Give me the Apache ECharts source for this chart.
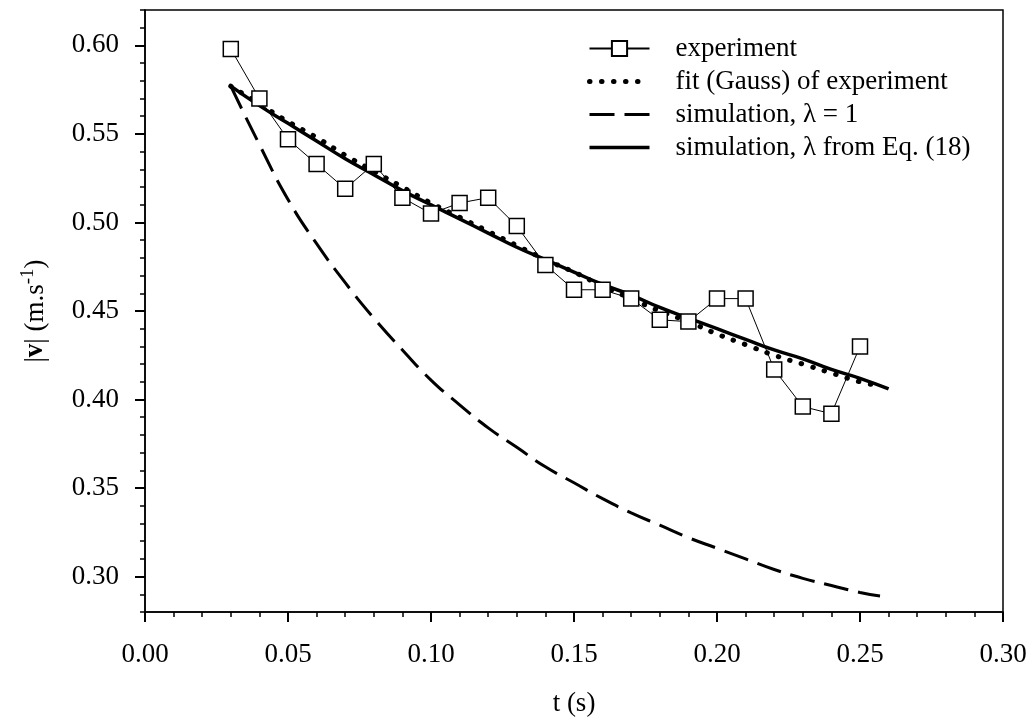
<!DOCTYPE html>
<html>
<head>
<meta charset="utf-8">
<script src="https://cdn.jsdelivr.net/npm/echarts@6/dist/echarts.min.js"></script>
<style>
  html, body { margin: 0; padding: 0; background: #fff; }
  #chart { width: 1033px; height: 722px; }
</style>
</head>
<body>
<div id="chart"></div>
<script>
// measured points, t in s, |v| in m/s
const expT = [0.03, 0.04, 0.05, 0.06, 0.07, 0.08, 0.09, 0.10, 0.11, 0.12, 0.13, 0.14,
  0.15, 0.16, 0.17, 0.18, 0.19, 0.20, 0.21, 0.22, 0.23, 0.24, 0.25];
const expV = [0.598, 0.570, 0.547, 0.533, 0.519, 0.533, 0.514, 0.505, 0.511, 0.514, 0.498, 0.476,
  0.462, 0.462, 0.457, 0.445, 0.444, 0.457, 0.457, 0.417, 0.396, 0.392, 0.430];

// gauss fit (dotted)
const fitT = [0.03, 0.04, 0.05, 0.06, 0.07, 0.08, 0.09, 0.10, 0.11, 0.12, 0.13, 0.14,
  0.15, 0.16, 0.17, 0.18, 0.19, 0.20, 0.21, 0.22, 0.23, 0.24, 0.25, 0.256];
const fitV = [0.577, 0.567, 0.557, 0.548, 0.538, 0.529, 0.520, 0.511, 0.503, 0.495, 0.487, 0.479,
  0.472, 0.464, 0.457, 0.450, 0.444, 0.437, 0.431, 0.425, 0.420, 0.415, 0.410, 0.408];

// simulation lambda = 1 (dashed)
const sim1T = [0.03, 0.04, 0.05, 0.06, 0.07, 0.08, 0.09, 0.10, 0.11, 0.12, 0.13, 0.14,
  0.15, 0.16, 0.17, 0.18, 0.19, 0.20, 0.21, 0.22, 0.23, 0.24, 0.25, 0.257];
const sim1V = [0.577, 0.544, 0.513, 0.488, 0.466, 0.446, 0.428, 0.411, 0.397, 0.384, 0.373, 0.362,
  0.353, 0.344, 0.336, 0.329, 0.322, 0.316, 0.310, 0.304, 0.299, 0.295, 0.291, 0.289];

// simulation lambda from Eq. (18) (solid)
const sim2T = [0.03, 0.04, 0.05, 0.06, 0.07, 0.08, 0.09, 0.10, 0.11, 0.12, 0.13, 0.14,
  0.15, 0.16, 0.17, 0.18, 0.19, 0.20, 0.21, 0.22, 0.23, 0.24, 0.25, 0.26];
const sim2V = [0.577, 0.566, 0.556, 0.546, 0.536, 0.527, 0.518, 0.510, 0.502, 0.494, 0.486, 0.479,
  0.472, 0.465, 0.459, 0.452, 0.446, 0.440, 0.434, 0.428, 0.423, 0.417, 0.412, 0.406];

const names = ['experiment', 'fit (Gauss) of experiment', 'simulation, \u03bb = 1', 'simulation, \u03bb from Eq. (18)'];

const zip = (a, b) => a.map((x, i) => [x, b[i]]);
const font = 'Liberation Serif';
const fs = 27;

const dotLine = { color: '#000', width: 5, type: [0.5, 11.5], cap: 'round' };
const dashLine = { color: '#000', width: 3, type: [25, 10] };
const solidLine = { color: '#000', width: 3.5, type: 'solid' };

let chart = echarts.init(document.getElementById('chart'));
chart.setOption({
  backgroundColor: '#fff',
  animation: false,
  textStyle: { fontFamily: font, color: '#000' },
  grid: [
    { left: 145, right: 30, top: 10, bottom: 110, show: true, borderColor: '#000', borderWidth: 1.5 },
    // second grid only carries the labelled 0.30..0.60 ticks
    { left: 145, right: 30, top: 45.4, bottom: 145.4 }
  ],
  legend: {
    orient: 'vertical',
    left: 582,
    top: 30,
    itemWidth: 60,
    itemHeight: 19,
    itemGap: 6,
    textStyle: { fontFamily: font, fontSize: fs, color: '#000', padding: [0, 0, 0, 21] },
    data: [
      { name: names[0] },
      { name: names[1], lineStyle: dotLine, itemStyle: { opacity: 0 } },
      { name: names[2], lineStyle: dashLine, itemStyle: { opacity: 0 } },
      { name: names[3], lineStyle: solidLine, itemStyle: { opacity: 0 } }
    ]
  },
  xAxis: [{
    type: 'value', gridIndex: 0, min: 0, max: 0.3, interval: 0.05,
    name: 't (s)', nameLocation: 'middle', nameGap: 78,
    nameTextStyle: { fontFamily: font, fontSize: fs, color: '#000' },
    axisLine: { lineStyle: { color: '#000', width: 1.5 } },
    axisTick: { length: 10, lineStyle: { width: 2, color: '#000' } },
    minorTick: { show: true, splitNumber: 5, length: 5, lineStyle: { width: 1.5, color: '#000' } },
    axisLabel: { fontFamily: font, fontSize: fs, color: '#000', margin: 29, formatter: v => v.toFixed(2) },
    splitLine: { show: false }
  }, {
    type: 'value', gridIndex: 1, min: 0, max: 0.3, show: false
  }],
  yAxis: [{
    type: 'value', gridIndex: 0, min: 0.28, max: 0.62, interval: 0.01,
    axisLine: { show: true, lineStyle: { color: '#000', width: 1.5 } },
    axisTick: { length: 5, lineStyle: { width: 1.5, color: '#000' } },
    axisLabel: { show: false },
    splitLine: { show: false }
  }, {
    type: 'value', gridIndex: 1, min: 0.30, max: 0.60, interval: 0.05,
    name: '|{b|v}| (m.s{sup|-1})', nameLocation: 'middle', nameGap: 93, nameRotate: 90,
    nameTextStyle: {
      fontFamily: font, fontSize: fs, color: '#000',
      rich: {
        b: { fontFamily: font, fontSize: fs, fontWeight: 'bold', color: '#000' },
        sup: { fontFamily: font, fontSize: 19, color: '#000', padding: [0, 0, 14, 0] }
      }
    },
    axisLine: { show: false },
    axisTick: { show: true, length: 10, lineStyle: { width: 2, color: '#000' } },
    axisLabel: { fontFamily: font, fontSize: fs, color: '#000', margin: 26, formatter: v => v.toFixed(2) },
    splitLine: { show: false }
  }],
  series: [{
    name: names[0], type: 'line', data: zip(expT, expV),
    symbol: 'rect', symbolSize: 15,
    itemStyle: { color: '#fff', borderColor: '#000', borderWidth: 1.5 },
    lineStyle: { color: '#000', width: 1 }
  }, {
    name: names[1], type: 'line', data: zip(fitT, fitV), smooth: true,
    symbol: 'none', itemStyle: { color: '#000' },
    lineStyle: dotLine
  }, {
    name: names[2], type: 'line', data: zip(sim1T, sim1V), smooth: true,
    symbol: 'none', itemStyle: { color: '#000' },
    lineStyle: dashLine
  }, {
    name: names[3], type: 'line', data: zip(sim2T, sim2V), smooth: true,
    symbol: 'none', itemStyle: { color: '#000' },
    lineStyle: solidLine
  }]
});
</script>
</body>
</html>
